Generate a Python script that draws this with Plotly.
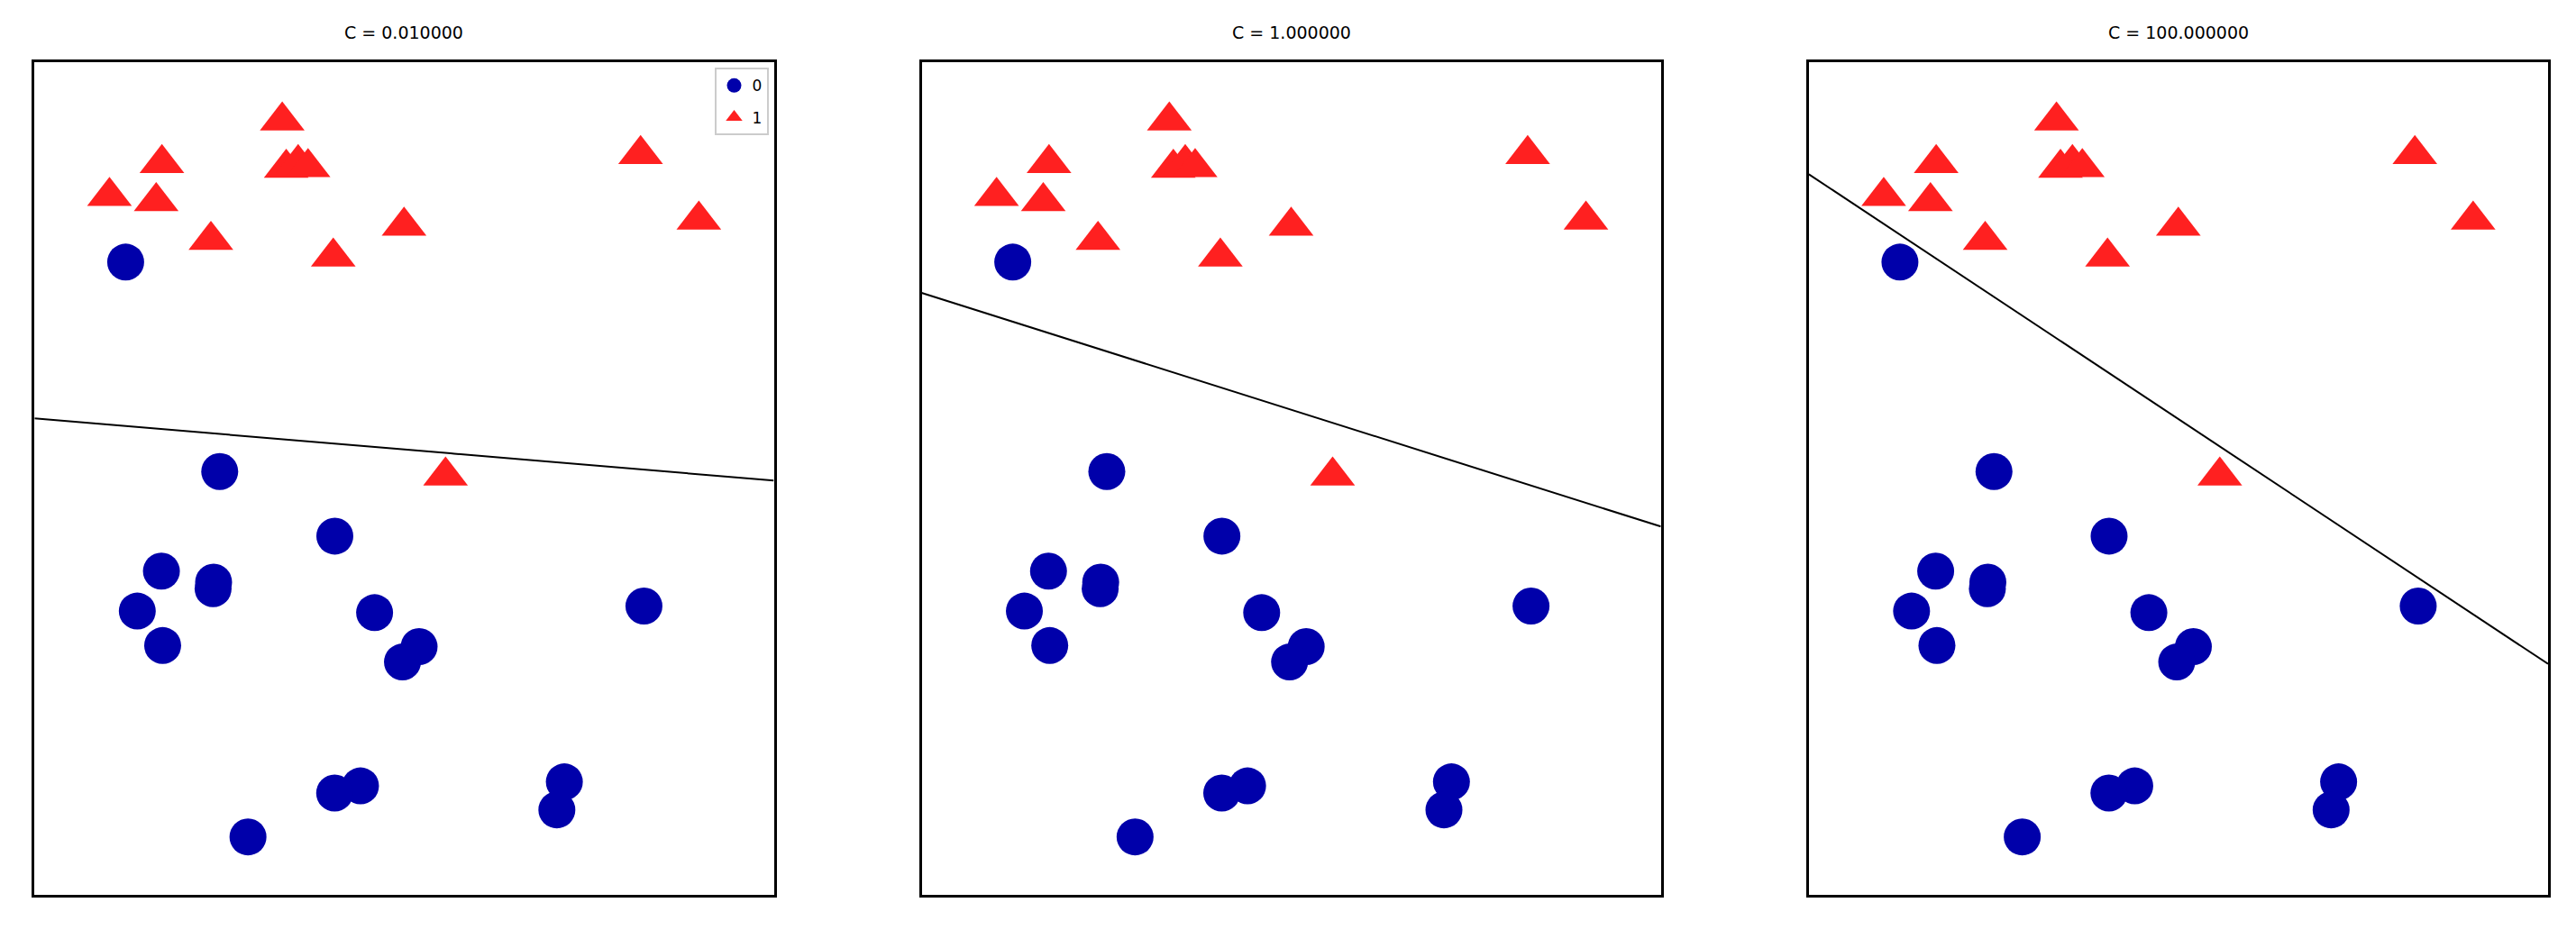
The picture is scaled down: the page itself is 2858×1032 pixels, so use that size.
import numpy as np
import plotly.graph_objects as go

# two-blob dataset (feature 0, feature 1, class)
feature0 = [9.96346605, 11.0329545, 11.54155807, 8.69289001, 8.1062269, 8.30988863,
            11.93027136, 9.67284681, 8.34810316, 8.67494727, 9.17748385, 10.24028948,
            8.68937095, 8.92229526, 9.49123469, 9.25694192, 7.99815287, 8.18378052,
            8.7337095, 9.32298256, 10.06393839, 9.50048972, 8.34468785, 9.50169345,
            9.15072323, 11.563957, 9.767, 8.353, 9.953, 10.983]
feature1 = [4.59676542, -0.16816717, 5.21116083, 1.54322016, 4.28695977, 4.80623966,
            4.64866327, -0.20283165, 5.13415623, 4.47573059, 5.09283177, 2.45544401,
            1.48709629, -0.63993225, 4.33224792, 5.13284858, 4.8525051, 1.29564214,
            2.49162431, 5.09840649, 0.99078055, -0.26430318, 1.63824349, 1.93824624,
            5.49832246, 1.3389402, 1.282, 1.000, 0.859, -0.408]
labels = [1, 0, 1, 0, 0, 1, 1, 0, 1, 1, 1, 1, 0, 0, 1, 1, 1, 0, 0, 1, 0, 0, 0, 0, 1, 0,
          0, 0, 0, 0]

# regularisation values and the decision boundary (y = slope*x + intercept)
C_values = [0.01, 1.0, 100.0]
boundary_slope = [-0.1081, -0.4061, -0.8510]
boundary_intercept = [3.758, 7.068, 11.421]

class_names = ["0", "1"]
class_colors = ["#0000aa", "#ff2020"]
class_symbols = ["circle", "triangle-up"]
class_sizes = [41, 43]

X0 = np.array(feature0)
X1 = np.array(feature1)
y = np.array(labels)
eps = 0.5
x_lo, x_hi = X0.min() - eps, X0.max() + eps
y_lo, y_hi = X1.min() - eps, X1.max() + eps

OFF = 8  # page body margin
W, H = 2858 - 2 * OFF, 1032 - 2 * OFF


def px_x(p):
    return (p - OFF) / W


def px_y(p):
    return 1 - (p - OFF) / H


x_domains = [(px_x(38.3), px_x(858.5)), (px_x(1022.5), px_x(1842.7)), (px_x(2006.8), px_x(2827.0))]
y_domain = (px_y(993.4), px_y(69.3))

fig = go.Figure()
font_family = "DejaVu Sans, Liberation Sans, sans-serif"

for i, C in enumerate(C_values):
    suffix = "" if i == 0 else str(i + 1)
    xa, ya = "x" + suffix, "y" + suffix
    xs = np.linspace(x_lo, x_hi, 200)
    ys = boundary_slope[i] * xs + boundary_intercept[i]
    fig.add_trace(go.Scatter(x=xs, y=ys, mode="lines", line=dict(color="black", width=2),
                             showlegend=False, hoverinfo="skip", xaxis=xa, yaxis=ya))
    for k in range(2):
        m = y == k
        fig.add_trace(go.Scatter(
            x=X0[m], y=X1[m], mode="markers", name=class_names[k],
            marker=dict(symbol=class_symbols[k], size=class_sizes[k], color=class_colors[k],
                        line=dict(width=0)),
            showlegend=(i == 0), legendgroup=class_names[k], xaxis=xa, yaxis=ya))
    axis_common = dict(showticklabels=False, ticks="", showgrid=False, zeroline=False,
                       showline=True, linecolor="black", linewidth=2.5, mirror=True)
    fig.update_layout(**{
        "xaxis" + suffix: dict(domain=list(x_domains[i]), range=[x_lo, x_hi], anchor=ya, **axis_common),
        "yaxis" + suffix: dict(domain=list(y_domain), range=[y_lo, y_hi], anchor=xa, **axis_common),
    })
    fig.add_annotation(text="C = %f" % C, xref="paper", yref="paper",
                       x=sum(x_domains[i]) / 2, y=px_y(36), xanchor="center", yanchor="middle",
                       showarrow=False, font=dict(size=19, color="black", family=font_family))

fig.update_layout(
    width=W, height=H,
    margin=dict(l=0, r=0, t=0, b=0),
    paper_bgcolor="white", plot_bgcolor="white",
    font=dict(family=font_family, color="black"),
    legend=dict(x=x_domains[0][1] - 6 / W, y=y_domain[1] - 6 / H, xanchor="right", yanchor="top",
                bgcolor="rgba(255,255,255,0.8)", bordercolor="#cccccc", borderwidth=2,
                font=dict(size=17), itemsizing="trace"),
)

fig.write_html("out.html")
